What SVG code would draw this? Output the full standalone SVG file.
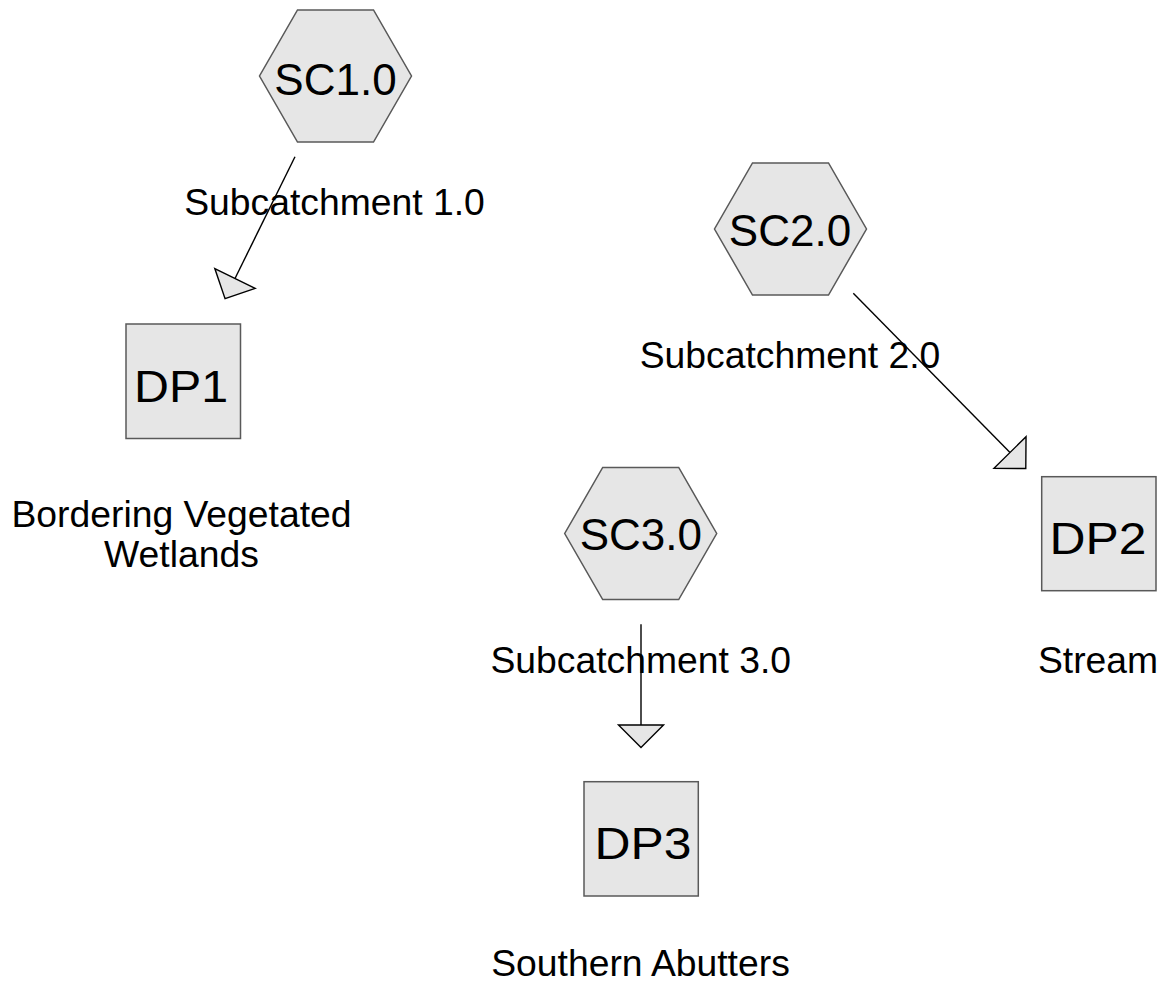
<svg xmlns="http://www.w3.org/2000/svg" width="1163" height="988" viewBox="0 0 1163 988">
<style>
.hex{fill:#e6e6e6;stroke:#595959;stroke-width:1.5}
.box{fill:#e6e6e6;stroke:#595959;stroke-width:1.5}
.id{font-family:"Liberation Sans",Arial,sans-serif;font-size:44px;fill:#000;text-anchor:middle}
.lbl{font-family:"Liberation Sans",Arial,sans-serif;font-size:37.3px;fill:#000;text-anchor:middle}
.edge{fill:none;stroke:#000;stroke-width:1.4}
</style>
<defs>
<marker id="tri" viewBox="-1 -1 25 48" refX="0" refY="23" markerWidth="25" markerHeight="48" markerUnits="userSpaceOnUse" orient="auto" overflow="visible">
<path d="M0,0.5 L22.5,23 L0,45.5 Z" fill="#e6e6e6" stroke="#000" stroke-width="1.4"/>
</marker>
</defs>
<rect width="1163" height="988" fill="#fff"/>
<g id="connectors">
<line class="edge" x1="295" y1="156.7" x2="235" y2="278.5" marker-end="url(#tri)"/>
<line class="edge" x1="853.3" y1="293.3" x2="1010" y2="452.5" marker-end="url(#tri)"/>
<line class="edge" x1="641" y1="624.3" x2="641" y2="725" marker-end="url(#tri)"/>
</g>
<g id="SC1">
<polygon class="hex" points="297.5,10 373.5,10 411.5,76 373.5,142 297.5,142 259.5,76"/>
<text class="id" x="335.5" y="95">SC1.0</text>
<text class="lbl" x="334.5" y="215">Subcatchment 1.0</text>
</g>
<g id="SC2">
<polygon class="hex" points="752.5,163 828.5,163 866.5,229 828.5,295 752.5,295 714.5,229"/>
<text class="id" x="790" y="245.7">SC2.0</text>
<text class="lbl" x="790" y="368.3">Subcatchment 2.0</text>
</g>
<g id="SC3">
<polygon class="hex" points="602.7,467.5 678.7,467.5 716.7,533.5 678.7,599.5 602.7,599.5 564.7,533.5"/>
<text class="id" x="640.8" y="550">SC3.0</text>
<text class="lbl" x="640.8" y="673.3">Subcatchment 3.0</text>
</g>
<g id="DP1">
<rect class="box" x="126" y="324" width="114.5" height="114.5"/>
<text class="id" x="181" y="401.7" textLength="94" lengthAdjust="spacingAndGlyphs">DP1</text>
<text class="lbl" x="181.5" y="527.3">Bordering Vegetated</text>
<text class="lbl" x="181.5" y="566.7">Wetlands</text>
</g>
<g id="DP2">
<rect class="box" x="1041.7" y="476.7" width="114.3" height="114"/>
<text class="id" x="1098" y="554.3" textLength="97" lengthAdjust="spacingAndGlyphs">DP2</text>
<text class="lbl" x="1098" y="673.3">Stream</text>
</g>
<g id="DP3">
<rect class="box" x="584" y="781.7" width="114.3" height="114.3"/>
<text class="id" x="643" y="859.3" textLength="97" lengthAdjust="spacingAndGlyphs">DP3</text>
<text class="lbl" x="640.5" y="976">Southern Abutters</text>
</g>
</svg>
